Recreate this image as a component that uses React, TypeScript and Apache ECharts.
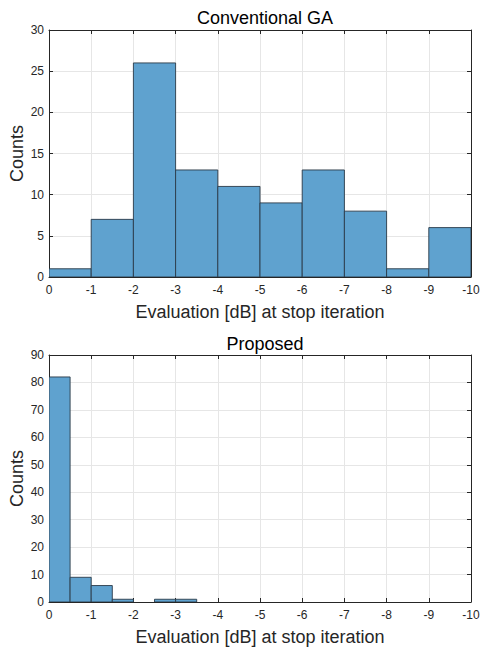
import React, { useEffect, useRef } from "react";
import * as echarts from "echarts";

// Histogram 1: Conventional GA, bin width 1 dB (edges 0 .. -10)
const gaEdges = [0, -1, -2, -3, -4, -5, -6, -7, -8, -9, -10];
const gaCounts = [1, 7, 26, 13, 11, 9, 13, 8, 1, 6];

// Histogram 2: Proposed, bin width 0.5 dB (edges 0 .. -3.5)
const propEdges = [0, -0.5, -1, -1.5, -2, -2.5, -3, -3.5];
const propCounts = [82, 9, 6, 1, 0, 1, 1];

const xTicks = [0, -1, -2, -3, -4, -5, -6, -7, -8, -9, -10];
const titles = ["Conventional GA", "Proposed"];
const xName = "Evaluation [dB] at stop iteration";
const yName = "Counts";

const FONT = "'Liberation Sans', Arial, Helvetica, sans-serif";
const TXT = "#262626";
const AX = "#262626";
const GRIDC = "#e6e6e6";

function binData(edges: number[], counts: number[]) {
  return counts.map((c, i) => [edges[i], edges[i + 1], c]);
}

function renderBin(params: any, api: any) {
  const s = api.value(0);
  const e = api.value(1);
  const c = api.value(2);
  if (c <= 0) return null;
  const p1 = api.coord([s, c]);
  const p2 = api.coord([e, 0]);
  const x = Math.min(p1[0], p2[0]);
  const w = Math.abs(p2[0] - p1[0]);
  const y = Math.min(p1[1], p2[1]);
  const h = Math.abs(p2[1] - p1[1]);
  return {
    type: "rect",
    shape: { x, y, width: w, height: h },
    style: { fill: "#5fa2cf", stroke: "#2a3a48", lineWidth: 0.9 },
  };
}

export default function App() {
  const ref = useRef<HTMLDivElement>(null);
  useEffect(() => {
    if (!ref.current) return;
    const chart = echarts.init(ref.current, undefined, { renderer: "svg" });
    const grids = [
      { left: 49, top: 30, width: 422, height: 247, outerBoundsMode: "none", containLabel: false },
      { left: 49, top: 355, width: 422, height: 247, outerBoundsMode: "none", containLabel: false },
    ];
    const yMax = [30, 90];
    const yInt = [5, 10];
    const xAxes: any[] = [];
    const yAxes: any[] = [];
    grids.forEach((g, i) => {
      xAxes.push({
        type: "value",
        gridIndex: i,
        min: -10,
        max: 0,
        interval: 1,
        inverse: true,
        position: "bottom",
        name: xName,
        nameLocation: "middle",
        nameGap: 26,
        nameMoveOverlap: false,
        nameTextStyle: { fontFamily: FONT, fontSize: 18, color: TXT },
        axisLine: { show: true, onZero: false, lineStyle: { color: AX, width: 1 } },
        axisTick: { show: true, inside: true, length: 4, lineStyle: { color: AX } },
        axisLabel: {
          fontFamily: FONT,
          fontSize: 12,
          color: TXT,
          margin: 7,
          formatter: (v: number) => (xTicks.includes(v) ? String(v) : ""),
        },
        splitLine: { show: true, lineStyle: { color: GRIDC, width: 1 } },
      });
      xAxes.push({
        type: "value",
        gridIndex: i,
        min: -10,
        max: 0,
        interval: 1,
        inverse: true,
        position: "top",
        axisLine: { show: true, onZero: false, lineStyle: { color: AX, width: 1 } },
        axisTick: { show: true, inside: true, length: 4, lineStyle: { color: AX } },
        axisLabel: { show: false },
        splitLine: { show: false },
      });
      yAxes.push({
        type: "value",
        gridIndex: i,
        min: 0,
        max: yMax[i],
        interval: yInt[i],
        position: "left",
        name: yName,
        nameLocation: "middle",
        nameGap: 23,
        nameMoveOverlap: false,
        nameTextStyle: { fontFamily: FONT, fontSize: 18, color: TXT },
        axisLine: { show: true, onZero: false, lineStyle: { color: AX, width: 1 } },
        axisTick: { show: true, inside: true, length: 4, lineStyle: { color: AX } },
        axisLabel: { fontFamily: FONT, fontSize: 12, color: TXT, margin: 5 },
        splitLine: { show: true, lineStyle: { color: GRIDC, width: 1 } },
      });
      yAxes.push({
        type: "value",
        gridIndex: i,
        min: 0,
        max: yMax[i],
        interval: yInt[i],
        position: "right",
        axisLine: { show: true, onZero: false, lineStyle: { color: AX, width: 1 } },
        axisTick: { show: true, inside: true, length: 4, lineStyle: { color: AX } },
        axisLabel: { show: false },
        splitLine: { show: false },
      });
    });
    chart.setOption({
      animation: false,
      backgroundColor: "#ffffff",
      title: [
        {
          text: titles[0],
          left: 260,
          top: 4,
          textAlign: "center",
          textStyle: { fontFamily: FONT, fontSize: 18, fontWeight: "normal", color: "#000" },
        },
        {
          text: titles[1],
          left: 260,
          top: 330,
          textAlign: "center",
          textStyle: { fontFamily: FONT, fontSize: 18, fontWeight: "normal", color: "#000" },
        },
      ],
      grid: grids,
      xAxis: xAxes,
      yAxis: yAxes,
      series: [
        {
          type: "custom",
          xAxisIndex: 0,
          yAxisIndex: 0,
          renderItem: renderBin,
          encode: { x: [0, 1], y: 2 },
          data: binData(gaEdges, gaCounts),
          clip: true,
        },
        {
          type: "custom",
          xAxisIndex: 2,
          yAxisIndex: 2,
          renderItem: renderBin,
          encode: { x: [0, 1], y: 2 },
          data: binData(propEdges, propCounts),
          clip: true,
        },
      ],
    });
    return () => chart.dispose();
  }, []);
  return (
    <div
      ref={ref}
      style={{ position: "fixed", left: 0, top: 0, width: 480, height: 647 }}
    />
  );
}
